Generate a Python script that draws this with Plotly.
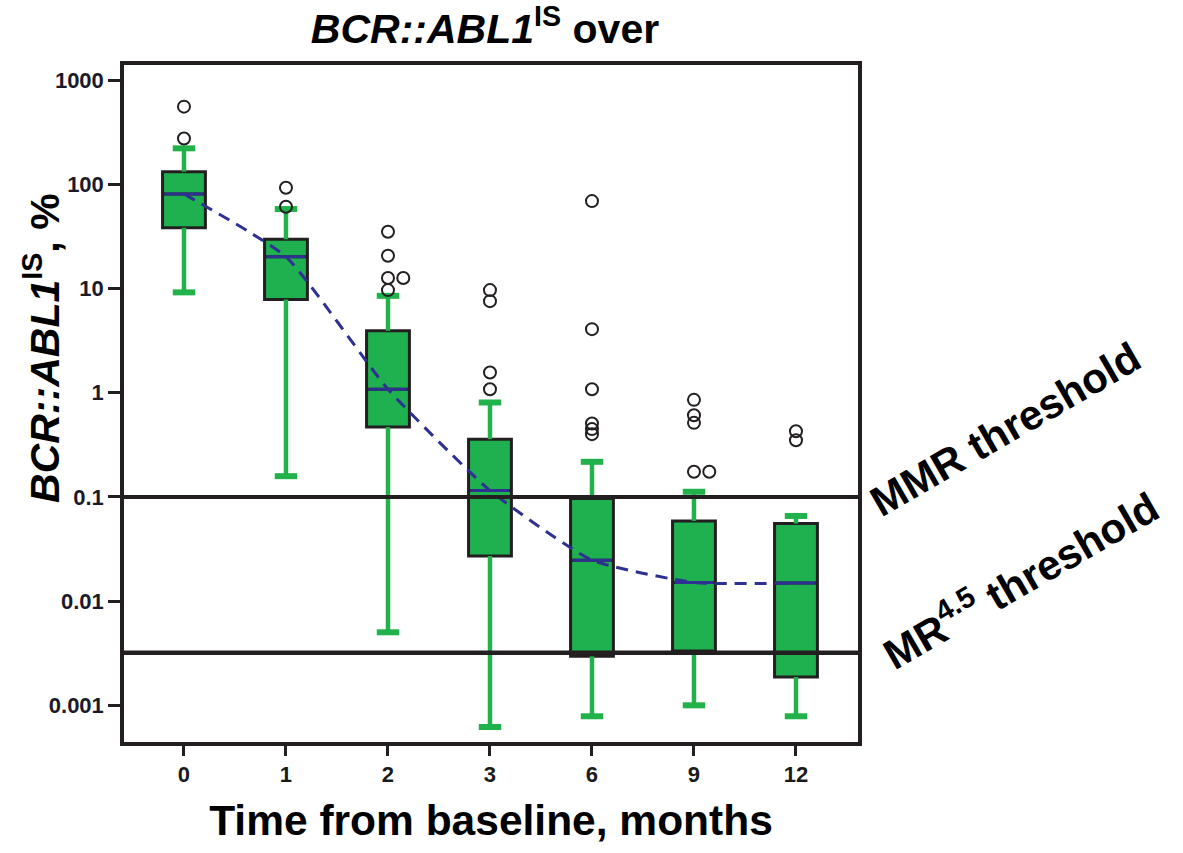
import plotly.graph_objects as go

# ---- data ----
months = ["0", "1", "2", "3", "6", "9", "12"]
q1 = [38.2, 7.85, 0.467, 0.0271, 0.00295, 0.00332, 0.00187]
median = [80.5, 20.1, 1.08, 0.115, 0.0247, 0.0151, 0.0149]
q3 = [132, 29.6, 3.92, 0.358, 0.0964, 0.0588, 0.0555]
whisker_low = [9.17, 0.158, 0.00502, 0.000619, 0.000785, 0.001, 0.000785]
whisker_high = [221, 57.8, 8.49, 0.805, 0.217, 0.112, 0.0656]
outliers = [
    [555, 275],
    [92.5, 60.8],
    [35.0, 20.6, 12.6, 12.6, 9.64],
    [9.64, 7.55, 1.56, 1.08],
    [68.9, 4.07, 1.08, 0.506, 0.447, 0.400],
    [0.853, 0.608, 0.513, 0.174, 0.174],
    [0.427, 0.350],
]
ytick_vals = [0.001, 0.01, 0.1, 1, 10, 100, 1000]
ytick_text = ["0.001", "0.01", "0.1", "1", "10", "100", "1000"]
mmr_threshold = 0.1
mr45_threshold = 0.0032

# ---- style ----
BOX_FILL = "#1fb04f"
WHISK = "#22b24c"
MED = "#2e3192"
DARK = "#231f20"
FONT = "Liberation Sans, Arial, sans-serif"
NARROW = "Liberation Sans Narrow, Liberation Sans, Arial, sans-serif"
BOX_W = 0.42
CAP_HALF = 0.11
DUP_OFFSET = 0.15

pos = list(range(len(months)))

fig = go.Figure()

# boxes
fig.add_trace(go.Box(
    x=pos, q1=q1, median=median, q3=q3, lowerfence=q1, upperfence=q3,
    width=BOX_W, whiskerwidth=0, boxpoints=False,
    fillcolor=BOX_FILL, line=dict(color=DARK, width=3),
    hoverinfo="skip", showlegend=False,
))

# whiskers
wx, wy = [], []
for p, lo, a, b, hi in zip(pos, whisker_low, q1, q3, whisker_high):
    wx += [p, p, None, p, p, None]
    wy += [lo, a, None, b, hi, None]
fig.add_trace(go.Scatter(x=wx, y=wy, mode="lines",
                         line=dict(color=WHISK, width=4.5),
                         hoverinfo="skip", showlegend=False))
# caps
cx, cy = [], []
for p, lo, hi in zip(pos, whisker_low, whisker_high):
    cx += [p - CAP_HALF, p + CAP_HALF, None, p - CAP_HALF, p + CAP_HALF, None]
    cy += [lo, lo, None, hi, hi, None]
fig.add_trace(go.Scatter(x=cx, y=cy, mode="lines",
                         line=dict(color=WHISK, width=6),
                         hoverinfo="skip", showlegend=False))

# dashed median trend
fig.add_trace(go.Scatter(x=pos, y=median, mode="lines",
                         line=dict(color=MED, width=3, shape="spline",
                                   smoothing=0.5, dash="12px,8px"),
                         hoverinfo="skip", showlegend=False))

# median lines
mx, my = [], []
for p, m in zip(pos, median):
    mx += [p - BOX_W / 2 + 0.02, p + BOX_W / 2 - 0.02, None]
    my += [m, m, None]
fig.add_trace(go.Scatter(x=mx, y=my, mode="lines",
                         line=dict(color=MED, width=3),
                         hoverinfo="skip", showlegend=False))

# outliers (exact duplicates placed side by side)
ox, oy = [], []
for p, vals in zip(pos, outliers):
    seen = {}
    for v in vals:
        k = seen.get(v, 0)
        ox.append(p + k * DUP_OFFSET)
        oy.append(v)
        seen[v] = k + 1
fig.add_trace(go.Scatter(x=ox, y=oy, mode="markers",
                         marker=dict(symbol="circle-open", size=12,
                                     color=DARK, line=dict(width=2, color=DARK)),
                         hoverinfo="skip", showlegend=False))

# thresholds
fig.add_hline(y=mmr_threshold, line=dict(color=DARK, width=4))
fig.add_hline(y=mr45_threshold, line=dict(color=DARK, width=4.5))

fig.add_annotation(text="<b>MMR threshold</b>", xref="paper", yref="paper",
                   x=1.2003, y=0.4609, xanchor="center", yanchor="middle",
                   textangle=-30, showarrow=False,
                   font=dict(family=FONT, size=42, color="#000"))
fig.add_annotation(text="<b>MR<sup>4.5</sup> threshold</b>", xref="paper", yref="paper",
                   x=1.2207, y=0.2422, xanchor="center", yanchor="middle",
                   textangle=-30, showarrow=False,
                   font=dict(family=FONT, size=42, color="#000"))

# y-axis title
fig.add_annotation(text="<b><i>BCR::ABL1</i><sup>IS</sup>, %</b>", xref="paper", yref="paper",
                   x=-0.0736, y=0.582, xanchor="right", yanchor="middle",
                   textangle=-90, showarrow=False,
                   font=dict(family=FONT, size=41, color="#000"))

fig.update_layout(
    width=1183, height=853,
    margin=dict(l=124, r=325, t=65, b=111),
    paper_bgcolor="white", plot_bgcolor="white",
    showlegend=False,
    title=dict(text="<b><i>BCR::ABL1</i><sup>IS</sup> over</b>",
               x=485 / 1183, xanchor="center", y=1 - 29 / 853, yanchor="middle",
               font=dict(family=FONT, size=41, color="#000")),
    xaxis=dict(
        range=[-0.588, 6.608], tickvals=pos, ticktext=months,
        showgrid=False, zeroline=False,
        showline=True, mirror=True, linecolor=DARK, linewidth=3.5,
        ticks="outside", ticklen=10, tickwidth=3, tickcolor=DARK,
        tickfont=dict(family=NARROW, size=22, color="#1a1a1a", weight="bold"),
        title=dict(text="<b>Time from baseline, months</b>", standoff=20,
                   font=dict(family=FONT, size=42.5, color="#000")),
    ),
    yaxis=dict(
        type="log", range=[-3.352, 3.144],
        tickvals=ytick_vals, ticktext=ytick_text,
        showgrid=False, zeroline=False,
        showline=True, mirror=True, linecolor=DARK, linewidth=3.5,
        ticks="outside", ticklen=12, tickwidth=3, tickcolor=DARK,
        tickfont=dict(family=NARROW, size=22, color="#1a1a2a", weight="bold"),
    ),
)

fig.write_html("out.html")
